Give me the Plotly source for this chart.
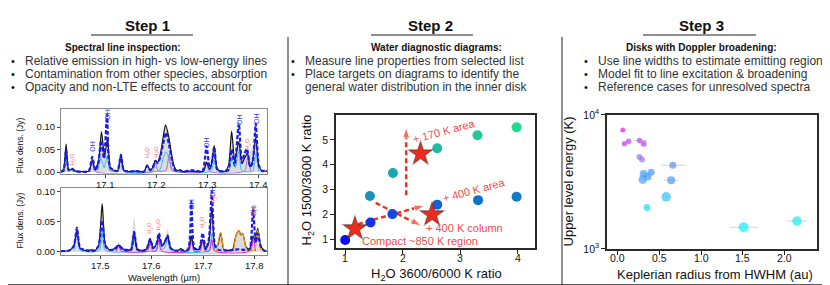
import plotly.graph_objects as go

W, H = 830, 285
FONT = "Liberation Sans, Arial, sans-serif"

# ---------------- Step 1 data: spectra (wavelength in µm, flux in Jy) ----------------
top_obs_wl = [17.014, 17.019, 17.024, 17.029, 17.036, 17.042, 17.060, 17.069, 17.075, 17.081,
              17.088, 17.093, 17.099, 17.105, 17.111, 17.124, 17.131, 17.137, 17.150, 17.160,
              17.176, 17.182, 17.188, 17.193, 17.198, 17.203, 17.208, 17.213, 17.218, 17.224,
              17.229, 17.234, 17.240, 17.246, 17.252, 17.265, 17.280, 17.292, 17.298, 17.304,
              17.308, 17.313, 17.318, 17.324, 17.334, 17.341, 17.347, 17.353, 17.361, 17.367,
              17.372, 17.378, 17.383, 17.388, 17.394, 17.400, 17.406, 17.416]
top_obs_fx = [0.001, 0.003, 0.062, 0.004, 0.007, 0.002, 0.001, 0.002, 0.027, 0.004,
              0.030, 0.090, 0.035, 0.076, 0.008, 0.002, 0.040, 0.003, 0.001, 0.002,
              0.001, 0.016, 0.004, 0.010, 0.026, 0.022, 0.040, 0.075, 0.105, 0.080,
              0.045, 0.015, 0.003, 0.005, 0.001, 0.002, 0.001, 0.002, 0.022, 0.006,
              0.020, 0.059, 0.010, 0.002, 0.002, 0.015, 0.091, 0.025, 0.068, 0.020,
              0.030, 0.042, 0.012, 0.025, 0.077, 0.015, 0.003, 0.002]
top_mod_wl = [17.014, 17.019, 17.024, 17.029, 17.036, 17.042, 17.068, 17.075, 17.081, 17.087,
              17.092, 17.098, 17.104, 17.110, 17.124, 17.131, 17.137, 17.160, 17.176, 17.182,
              17.188, 17.193, 17.198, 17.203, 17.208, 17.213, 17.219, 17.225, 17.231, 17.237,
              17.246, 17.252, 17.270, 17.290, 17.298, 17.304, 17.308, 17.313, 17.318, 17.324,
              17.340, 17.347, 17.353, 17.361, 17.367, 17.372, 17.377, 17.383, 17.388, 17.394,
              17.400, 17.406, 17.416]
top_mod_fx = [0.001, 0.003, 0.050, 0.004, 0.007, 0.002, 0.002, 0.034, 0.004, 0.020,
              0.070, 0.030, 0.128, 0.010, 0.002, 0.038, 0.003, 0.002, 0.001, 0.014,
              0.004, 0.010, 0.024, 0.020, 0.035, 0.062, 0.088, 0.060, 0.025, 0.004,
              0.004, 0.001, 0.004, 0.002, 0.058, 0.008, 0.020, 0.056, 0.008, 0.002,
              0.004, 0.050, 0.015, 0.108, 0.020, 0.040, 0.052, 0.012, 0.020, 0.108,
              0.015, 0.003, 0.002]
top_env_wl = [17.350, 17.356, 17.362, 17.370, 17.380, 17.390, 17.398, 17.404]
top_env_fx = [0.000, 0.030, 0.055, 0.035, 0.038, 0.060, 0.020, 0.000]
top_green_wl = [17.014, 17.019, 17.024, 17.029, 17.040]
top_green_fx = [0.002, 0.010, 0.055, 0.008, 0.001]
top_cyan_wl = [17.085, 17.092, 17.098, 17.104, 17.110, 17.125, 17.131, 17.137, 17.206, 17.213,
               17.219, 17.226, 17.232, 17.306, 17.313, 17.319, 17.341, 17.347, 17.354, 17.361,
               17.367, 17.388, 17.394, 17.400]
top_cyan_fx = [0.002, 0.030, 0.010, 0.035, 0.002, 0.002, 0.030, 0.002, 0.004, 0.030,
               0.045, 0.025, 0.003, 0.002, 0.035, 0.002, 0.002, 0.030, 0.010, 0.045,
               0.003, 0.002, 0.040, 0.002]
top_purple_wl = [17.069, 17.075, 17.081, 17.192, 17.198, 17.204, 17.219, 17.225, 17.231,
                 17.292, 17.298, 17.304, 17.372, 17.378, 17.384]
top_purple_fx = [0.001, 0.020, 0.001, 0.001, 0.020, 0.002, 0.004, 0.040, 0.004,
                 0.001, 0.020, 0.001, 0.002, 0.030, 0.002]
top_orange_wl = [17.405, 17.411, 17.416]
top_orange_fx = [0.001, 0.005, 0.002]

bot_obs_wl = [17.424, 17.440, 17.449, 17.455, 17.461, 17.470, 17.485, 17.490, 17.497, 17.504,
              17.510, 17.518, 17.526, 17.531, 17.536, 17.541, 17.548, 17.560, 17.566, 17.572,
              17.580, 17.590, 17.597, 17.603, 17.609, 17.614, 17.620, 17.625, 17.631, 17.637,
              17.645, 17.651, 17.657, 17.663, 17.671, 17.677, 17.683, 17.692, 17.699, 17.705,
              17.711, 17.717, 17.723, 17.728, 17.734, 17.740, 17.748, 17.757, 17.763, 17.769,
              17.773, 17.777, 17.783, 17.790, 17.797, 17.801, 17.806, 17.812, 17.818, 17.824]
bot_obs_fx = [0.001, 0.002, 0.010, 0.038, 0.006, 0.002, 0.003, 0.002, 0.010, 0.080,
              0.012, 0.003, 0.004, 0.008, 0.011, 0.008, 0.002, 0.004, 0.033, 0.004,
              0.002, 0.004, 0.022, 0.006, 0.012, 0.026, 0.010, 0.015, 0.026, 0.006,
              0.002, 0.002, 0.005, 0.001, 0.003, 0.026, 0.004, 0.004, 0.020, 0.004,
              0.015, 0.076, 0.010, 0.010, 0.032, 0.004, 0.002, 0.003, 0.025, 0.035,
              0.028, 0.030, 0.008, 0.004, 0.026, 0.020, 0.039, 0.010, 0.002, 0.001]
bot_mod_wl = [17.424, 17.440, 17.449, 17.455, 17.461, 17.470, 17.480, 17.490, 17.497, 17.504,
              17.510, 17.518, 17.528, 17.536, 17.544, 17.560, 17.566, 17.572, 17.580, 17.590,
              17.597, 17.603, 17.609, 17.614, 17.620, 17.625, 17.631, 17.637, 17.645, 17.660,
              17.671, 17.677, 17.683, 17.692, 17.699, 17.705, 17.711, 17.717, 17.723, 17.730,
              17.748, 17.760, 17.770, 17.780, 17.790, 17.797, 17.802, 17.806, 17.812, 17.818,
              17.824]
bot_mod_fx = [0.001, 0.002, 0.010, 0.040, 0.006, 0.003, 0.001, 0.002, 0.010, 0.052,
              0.010, 0.003, 0.004, 0.010, 0.004, 0.003, 0.033, 0.004, 0.001, 0.004,
              0.021, 0.006, 0.012, 0.031, 0.010, 0.015, 0.027, 0.006, 0.002, 0.002,
              0.004, 0.084, 0.006, 0.004, 0.031, 0.004, 0.020, 0.100, 0.010, 0.003,
              0.002, 0.003, 0.004, 0.003, 0.004, 0.071, 0.015, 0.030, 0.008, 0.002,
              0.001]
bot_env_wl = [17.520, 17.528, 17.536, 17.544, 17.556, 17.566, 17.576, 17.620, 17.631, 17.642,
              17.755, 17.763, 17.769, 17.777, 17.787]
bot_env_fx = [0.000, 0.006, 0.016, 0.006, 0.004, 0.056, 0.004, 0.008, 0.037, 0.000,
              0.000, 0.028, 0.036, 0.031, 0.000]
bot_cyan_wl = [17.449, 17.455, 17.461, 17.498, 17.504, 17.510, 17.560, 17.566, 17.572, 17.608,
               17.614, 17.620, 17.625, 17.631, 17.637, 17.711, 17.717, 17.723]
bot_cyan_fx = [0.002, 0.030, 0.002, 0.002, 0.035, 0.002, 0.002, 0.025, 0.002, 0.002,
               0.020, 0.004, 0.006, 0.022, 0.002, 0.002, 0.030, 0.002]
bot_magenta_wl = [17.531, 17.536, 17.541, 17.592, 17.597, 17.602, 17.609, 17.614, 17.619,
                  17.672, 17.677, 17.682, 17.694, 17.699, 17.704, 17.712, 17.717, 17.722,
                  17.792, 17.797, 17.802]
bot_magenta_fx = [0.001, 0.010, 0.001, 0.001, 0.015, 0.001, 0.001, 0.020, 0.001,
                  0.001, 0.022, 0.001, 0.001, 0.016, 0.001, 0.001, 0.020, 0.001,
                  0.001, 0.022, 0.001]
bot_orange_wl = [17.726, 17.734, 17.742, 17.758, 17.763, 17.769, 17.773, 17.777, 17.785,
                 17.800, 17.806, 17.812]
bot_orange_fx = [0.001, 0.032, 0.001, 0.002, 0.024, 0.035, 0.027, 0.030, 0.002,
                 0.003, 0.036, 0.002]

# line identification labels (wavelength, flux position)
top_oh_wl = [17.075, 17.104, 17.298, 17.361, 17.394]
top_oh_fx = [0.057, 0.128, 0.066, 0.118, 0.120]
top_h2o_wl = [17.036, 17.183, 17.200, 17.379]
top_h2o_fx = [0.029, 0.043, 0.046, 0.063]
bot_oh_wl = [17.677, 17.717, 17.797]
bot_oh_fx = [0.079, 0.101, 0.067]
bot_h2o_wl = [17.597, 17.614, 17.700, 17.721, 17.801]
bot_h2o_fx = [0.040, 0.045, 0.050, 0.090, 0.070]

top_xticks = [17.1, 17.2, 17.3, 17.4]
bot_xticks = [17.5, 17.6, 17.7, 17.8]
spec_yticks = [0.00, 0.05, 0.10]

# ---------------- Step 2 data: water diagnostic diagram ----------------
s2_x = [1.00, 1.44, 1.82, 2.60, 3.31, 3.98, 1.43, 1.83, 2.60, 3.30, 3.98]
s2_y = [0.98, 1.68, 2.02, 2.40, 2.58, 2.72, 2.75, 3.67, 4.66, 5.18, 5.50]
s2_colors = ['#0a0cf5', '#1534e6', '#1548de', '#1262d4', '#1270cc', '#167ac6',
             '#1a92bc', '#1aa8b0', '#20baa2', '#20c89a', '#22d890']
star_x = [1.17, 2.31, 2.51]
star_y = [1.44, 4.44, 2.00]
arr_x0 = [2.06, 1.22, 1.53]
arr_y0 = [2.78, 1.62, 2.47]
arr_x1 = [2.06, 2.38, 2.32]
arr_y1 = [5.50, 2.37, 1.55]
s2_labels = ["+ 170 K area", "+ 400 K area", "+ 400 K column", "Compact ~850 K region"]
s2_lab_x = [2.72, 3.24, 3.07, 2.30]
s2_lab_y = [5.34, 2.97, 1.45, 0.93]
s2_lab_ang = [-15, -15, 0, 0]
s2_xticks = [1, 2, 3, 4]
s2_yticks = [1, 2, 3, 4, 5]

# ---------------- Step 3 data: Keplerian radius vs upper level energy ----------------
s3_r = [0.06, 0.08, 0.13, 0.26, 0.31, 0.26, 0.29, 0.66, 0.40, 0.31, 0.36, 0.30, 0.64, 0.58, 0.35, 1.51, 2.15]
s3_E = [7700, 6100, 6370, 6440, 6100, 4850, 4640, 4210, 3730, 3630, 3460, 3290, 3260, 2450, 2040, 1450, 1615]
s3_err_lo = [0.02, 0.02, 0.02, 0.07, 0.02, 0.02, 0.02, 0.14, 0.03, 0.03, 0.03, 0.03, 0.09, 0.04, 0.02, 0.17, 0.12]
s3_err_hi = [0.02, 0.02, 0.02, 0.09, 0.02, 0.02, 0.02, 0.15, 0.03, 0.03, 0.03, 0.03, 0.09, 0.04, 0.02, 0.17, 0.12]
s3_size = [5, 5.5, 5.5, 5.5, 6, 6, 6, 7, 7, 8, 7.5, 8.5, 8, 9.5, 7, 10, 9.5]
s3_colors = ['#e020e8', '#c642f2', '#c642f2', '#c040f0', '#c040f0', '#9a78f4', '#a07cf6',
             '#5a8ef2', '#4c9af5', '#4a9cf6', '#4aa0f6', '#46a2f6', '#4c9af5', '#30c2f8',
             '#22dcf8', '#12f0f8', '#14eef8']
s3_xticks = [0.0, 0.5, 1.0, 1.5, 2.0]

# ---------------- helpers ----------------
def px(x):
    return x / W

def py(y):
    return 1 - y / H

fig = go.Figure()

C_CYAN, C_PURPLE, C_MAG, C_GREEN, C_ORANGE = '#33bbff', '#a070d8', '#dd22dd', '#22dd22', '#ff9a10'
SPL = dict(shape='spline', smoothing=0.6)

def add_spectrum(xa, ya, obs_wl, obs_fx, env_wl, env_fx, mod_wl, mod_fx, comps, top_comps):
    fig.add_trace(go.Scatter(x=obs_wl, y=obs_fx, mode='lines', line=dict(width=0, **SPL),
                             fill='tozeroy', fillcolor='#dcdcdc', xaxis=xa, yaxis=ya, hoverinfo='skip'))
    fig.add_trace(go.Scatter(x=env_wl, y=env_fx, mode='lines', line=dict(width=0, **SPL),
                             fill='tozeroy', fillcolor='#dcdcdc', xaxis=xa, yaxis=ya, hoverinfo='skip'))
    for wl, fx, col in comps:
        fig.add_trace(go.Scatter(x=wl, y=fx, mode='lines', line=dict(width=1, color=col, **SPL),
                                 xaxis=xa, yaxis=ya, hoverinfo='skip'))
    fig.add_trace(go.Scatter(x=obs_wl, y=obs_fx, mode='lines', line=dict(width=1.2, color='#111111', **SPL),
                             xaxis=xa, yaxis=ya))
    for wl, fx, col in top_comps:
        fig.add_trace(go.Scatter(x=wl, y=fx, mode='lines', line=dict(width=1.2, color=col, **SPL),
                                 xaxis=xa, yaxis=ya, hoverinfo='skip'))
    fig.add_trace(go.Scatter(x=mod_wl, y=mod_fx, mode='lines',
                             line=dict(width=2.2, color='#1a1aee', dash='4px,2px', **SPL),
                             xaxis=xa, yaxis=ya))

add_spectrum('x', 'y', top_obs_wl, top_obs_fx, top_env_wl, top_env_fx, top_mod_wl, top_mod_fx,
             [(top_cyan_wl, top_cyan_fx, C_CYAN), (top_purple_wl, top_purple_fx, C_PURPLE),
              (top_green_wl, top_green_fx, C_GREEN)],
             [(top_orange_wl, top_orange_fx, C_ORANGE)])
add_spectrum('x2', 'y2', bot_obs_wl, bot_obs_fx, bot_env_wl, bot_env_fx, bot_mod_wl, bot_mod_fx,
             [(bot_cyan_wl, bot_cyan_fx, C_CYAN), (bot_magenta_wl, bot_magenta_fx, C_MAG)],
             [(bot_orange_wl, bot_orange_fx, C_ORANGE)])

annotations = []

def line_labels(wls, fxs, text, color, size, xr, yr):
    for w, f in zip(wls, fxs):
        annotations.append(dict(x=w, y=f, xref=xr, yref=yr, text=text, showarrow=False, textangle=-90,
                                font=dict(family=FONT, size=size, color=color)))

line_labels(top_oh_wl, top_oh_fx, 'OH', '#2a3cf0', 7, 'x', 'y')
line_labels(top_h2o_wl, top_h2o_fx, 'H<sub>2</sub>O', '#ff6c6c', 6, 'x', 'y')
line_labels(bot_oh_wl, bot_oh_fx, 'OH', '#2a3cf0', 7, 'x2', 'y2')
line_labels(bot_h2o_wl, bot_h2o_fx, 'H<sub>2</sub>O', '#ff6c6c', 6, 'x2', 'y2')

# ---------------- Step 2 traces ----------------
RED = '#ee3322'
for i in range(len(arr_x0)):
    fig.add_trace(go.Scatter(x=[arr_x0[i], arr_x1[i]], y=[arr_y0[i], arr_y1[i]], mode='lines+markers',
                             line=dict(color=RED, width=2.5, dash='5px,3px'),
                             marker=dict(symbol=['circle', 'arrow'], size=[0, 11], color=RED, angleref='previous'),
                             xaxis='x3', yaxis='y3'))
fig.add_trace(go.Scatter(x=s2_x, y=s2_y, mode='markers',
                         marker=dict(size=10, color=s2_colors, line=dict(width=0)), xaxis='x3', yaxis='y3'))
fig.add_trace(go.Scatter(x=star_x, y=star_y, mode='markers',
                         marker=dict(symbol='star', size=21, color='rgba(70,40,40,0.35)', line=dict(width=0)),
                         xaxis='x3', yaxis='y3'))
fig.add_trace(go.Scatter(x=star_x, y=star_y, mode='markers',
                         marker=dict(symbol='star', size=17, color='#ee2a1e', line=dict(width=0.6, color='#7a2a22')),
                         xaxis='x3', yaxis='y3'))
for t, x, y, a in zip(s2_labels, s2_lab_x, s2_lab_y, s2_lab_ang):
    annotations.append(dict(x=x, y=y, xref='x3', yref='y3', text=t, showarrow=False, textangle=a,
                            font=dict(family=FONT, size=11, color='#f04c4c')))

# ---------------- Step 3 traces ----------------
fig.add_trace(go.Scatter(x=s3_r, y=s3_E, mode='markers',
                         error_x=dict(type='data', symmetric=False, array=s3_err_hi, arrayminus=s3_err_lo,
                                      color='#d4d4d4', thickness=1, width=0),
                         marker=dict(size=s3_size, color=s3_colors, line=dict(width=0)),
                         xaxis='x4', yaxis='y4'))

# ---------------- axes ----------------
def spec_axis(dom, rng, vals, fmt, anchor, show_labels=True):
    return dict(domain=dom, range=rng, anchor=anchor, tickvals=vals, tickformat=fmt, ticks='outside',
                ticklen=3, tickwidth=1, tickcolor='#444', showline=True, mirror=True, linecolor='#8a8a8a',
                linewidth=1, showgrid=False, zeroline=False, showticklabels=show_labels,
                tickfont=dict(family=FONT, size=9.5, color='#111'))

frame = dict(ticks='outside', ticklen=4, tickwidth=1, tickcolor='#222', showline=True, mirror=True,
             linecolor='#2a2a2a', linewidth=1.5, showgrid=False, zeroline=False,
             tickfont=dict(family=FONT, size=10.5, color='#111'))

fig.update_layout(
    width=W, height=H, margin=dict(l=0, r=0, t=0, b=0), paper_bgcolor='white', plot_bgcolor='white',
    showlegend=False,
    xaxis=spec_axis([px(53), px(259)], [17.014, 17.416], top_xticks, '.1f', 'y', False),
    yaxis=spec_axis([py(166), py(98)], [-0.004, 0.14], spec_yticks, '.2f', 'x'),
    xaxis2=spec_axis([px(53), px(259)], [17.424, 17.824], bot_xticks, '.1f', 'y2', False),
    yaxis2=spec_axis([py(251), py(181)], [-0.005, 0.106], spec_yticks, '.2f', 'x2'),
    xaxis3=dict(domain=[px(328), px(527)], range=[0.84, 4.3], anchor='y3', tickvals=s2_xticks,
                showticklabels=False, **frame),
    yaxis3=dict(domain=[py(244), py(104)], range=[0.66, 6.0], anchor='x3', tickvals=s2_yticks, **frame),
    xaxis4=dict(domain=[px(599), px(809)], range=[-0.13, 2.39], anchor='y4',
                tickvals=s3_xticks, showticklabels=False, **frame),
    yaxis4=dict(domain=[py(245), py(104)], type='log', range=[3, 4], anchor='x4',
                tickvals=[1000, 10000], ticktext=['10<sup>3</sup>', '10<sup>4</sup>'], **frame),
)

# x tick labels placed as annotations (tighter spacing, as in the reference)
def xtick_labels(vals, fmt, xr, ypix, size):
    for v in vals:
        annotations.append(dict(x=v, y=py(ypix), xref=xr, yref='paper', text=format(v, fmt), showarrow=False,
                                xanchor='center', yanchor='middle', font=dict(family=FONT, size=size, color='#111')))

xtick_labels(top_xticks, '.1f', 'x', 177, 9.5)
xtick_labels(bot_xticks, '.1f', 'x2', 262, 9.5)
xtick_labels(s2_xticks, 'd', 'x3', 255, 10.5)
xtick_labels(s3_xticks, '.1f', 'x4', 255, 10.5)

# ---------------- header texts ----------------
def txt(x, y, s, size, anchor='center', color='#111', angle=0):
    annotations.append(dict(x=px(x), y=py(y), xref='paper', yref='paper', text=s, showarrow=False,
                            xanchor=anchor, yanchor='middle', textangle=angle,
                            font=dict(family=FONT, size=size, color=color)))

for cx, s in [(139, 'Step 1'), (422, 'Step 2'), (693, 'Step 3')]:
    txt(cx, 10, '<b>' + s + '</b>', 15)
for cx, s in [(115, 'Spectral line inspection:'), (429, 'Water diagnostic diagrams:'),
              (693, 'Disks with Doppler broadening:')]:
    txt(cx, 33, '<b>' + s + '</b>', 10)

bullets = [
    (5, 15, ['Relative emission in high- vs low-energy lines',
             'Contamination from other species, absorption',
             'Opacity and non-LTE effects to account for'], [True, True, True]),
    (285, 295, ['Measure line properties from selected list',
                'Place targets on diagrams to identify the',
                'general water distribution in the inner disk'], [True, True, False]),
    (578, 588, ['Use line widths to estimate emitting region',
                'Model fit to line excitation & broadening',
                'Reference cases for unresolved spectra'], [True, True, True]),
]
for bx, tx, lines, dots in bullets:
    for k, (ln, d) in enumerate(zip(lines, dots)):
        yy = 47 + 14 * k
        if d:
            txt(bx, yy, '•', 11, color='#111')
        txt(tx, yy, ln, 12, anchor='left', color='#333')

# axis titles
txt(12, 136, 'Flux dens. (Jy)', 8.5, angle=-90)
txt(12, 215, 'Flux dens. (Jy)', 8.5, angle=-90)
txt(156, 275, 'Wavelength (µm)', 9.5)
txt(428, 272, 'H<sub>2</sub>O 3600/6000 K ratio', 13)
txt(300, 173, 'H<sub>2</sub>O 1500/3600 K ratio', 13, angle=-90)
txt(707, 272, 'Keplerian radius from HWHM (au)', 13)
txt(560, 174, 'Upper level energy (K)', 13, angle=-90)

shapes = []
for x0, x1 in [(83, 185), (363, 465), (635, 748)]:
    shapes.append(dict(type='line', xref='paper', yref='paper', x0=px(x0), x1=px(x1), y0=py(20), y1=py(20),
                       line=dict(color='#222', width=1)))
for xv in [280, 554]:
    shapes.append(dict(type='line', xref='paper', yref='paper', x0=px(xv), x1=px(xv), y0=py(22), y1=py(283),
                       line=dict(color='#222', width=1)))
shapes.append(dict(type='line', xref='paper', yref='paper', x0=0, x1=1, y0=py(283), y1=py(283),
                   line=dict(color='#222', width=1.5)))

fig.update_layout(annotations=annotations, shapes=shapes)
fig.write_html("out.html")
